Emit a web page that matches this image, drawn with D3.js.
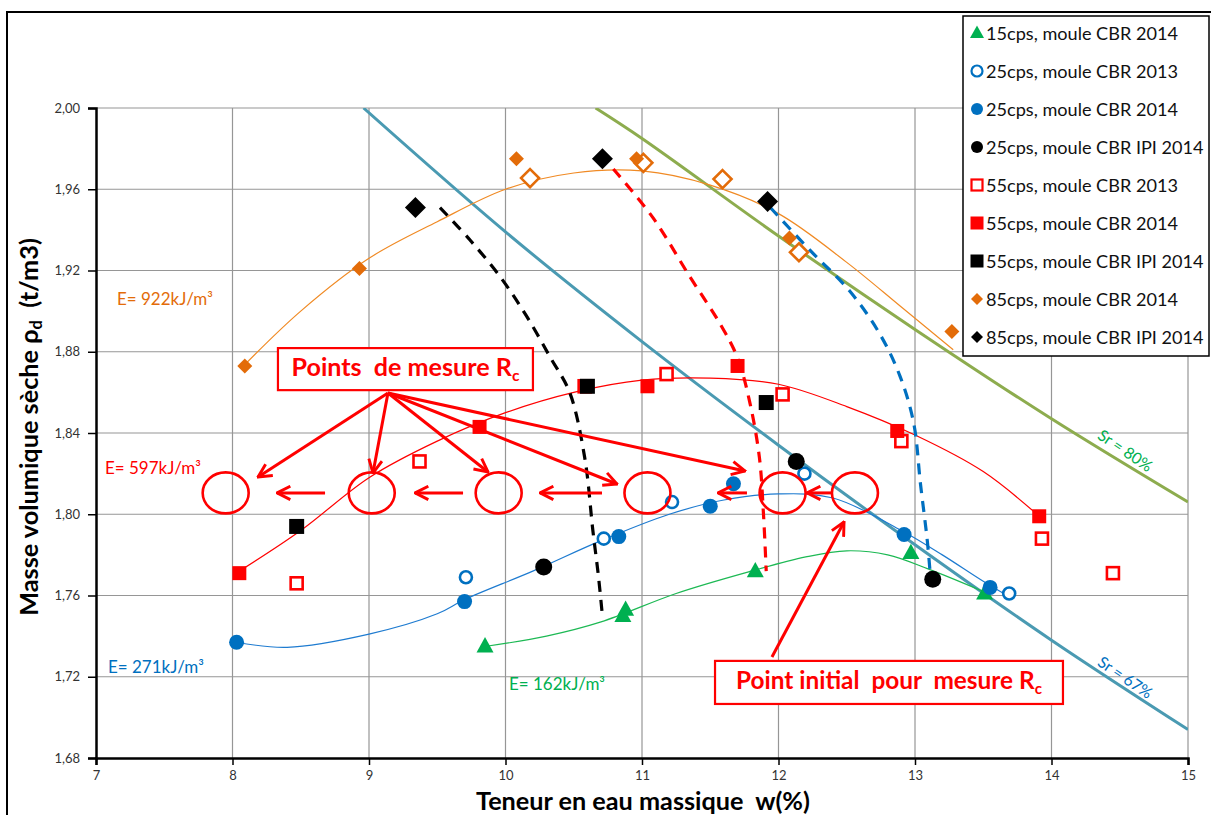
<!DOCTYPE html>
<html><head><meta charset="utf-8">
<script src="https://cdn.jsdelivr.net/npm/d3@7"></script>
<style>
body{margin:0;background:#fff}
text{font-family:Lato,'Open Sans',sans-serif}
</style>
</head><body>
<svg id="c" width="1211" height="815"></svg>
<script>
// ---------------- DATA ----------------
const xTicks = [7, 8, 9, 10, 11, 12, 13, 14, 15];
const yTicks = [1.68, 1.72, 1.76, 1.80, 1.84, 1.88, 1.92, 1.96, 2.00];

const legendLabels = [
  "15cps, moule CBR 2014", "25cps, moule CBR 2013", "25cps, moule CBR 2014",
  "25cps, moule CBR IPI 2014", "55cps, moule CBR 2013", "55cps, moule CBR 2014",
  "55cps, moule CBR IPI 2014", "85cps, moule CBR 2014", "85cps, moule CBR IPI 2014"
];

// [w %, rho_d t/m3]
const s15CBR2014   = [[9.85,1.735],[10.86,1.750],[10.88,1.753],[11.83,1.772],[12.97,1.781],[13.51,1.761]];
const s25CBR2013   = [[9.71,1.769],[10.72,1.788],[11.22,1.806],[12.19,1.820],[13.69,1.761]];
const s25CBR2014   = [[8.03,1.737],[9.70,1.757],[10.83,1.789],[11.50,1.804],[11.67,1.815],[12.92,1.790],[13.55,1.764]];
const s25IPI2014   = [[10.28,1.774],[12.13,1.826],[13.13,1.768]];
const s55CBR2013   = [[8.47,1.766],[9.37,1.826],[10.58,1.863],[11.18,1.869],[12.03,1.859],[12.90,1.836],[13.93,1.788],[14.45,1.771]];
const s55CBR2014   = [[8.05,1.771],[9.81,1.843],[11.04,1.863],[11.70,1.873],[12.87,1.841],[13.91,1.799]];
const s55IPI2014   = [[8.47,1.794],[10.60,1.863],[11.91,1.855]];
const s85CBR2014   = [[8.09,1.873],[8.93,1.921],[10.08,1.975],[10.96,1.975],[12.08,1.936],[13.27,1.890]];
const s85CBR2014b  = [[10.18,1.9655],[11.01,1.973],[11.59,1.965],[12.15,1.929]]; // open diamonds (no legend entry)
const s85IPI2014   = [[9.34,1.951],[10.71,1.975],[11.92,1.954]];

// trend curves
const trend162 = [[9.86,1.735],[10.3,1.740],[10.7,1.747],[11.25,1.761],[11.8,1.772],[12.2,1.779],[12.5,1.782],[12.8,1.780],[13.1,1.773],[13.5,1.762]];
const trend271 = [[8.03,1.737],[8.4,1.7345],[9.0,1.741],[9.5,1.751],[9.7,1.758],[10.2,1.772],[10.7,1.787],[11.2,1.800],[11.6,1.807],[12.0,1.810],[12.4,1.808],[12.9,1.792],[13.2,1.780],[13.5,1.767],[13.7,1.759]];
const trend597 = [[8.05,1.772],[8.5,1.792],[9.0,1.818],[9.5,1.836],[10.0,1.850],[10.5,1.860],[11.0,1.866],[11.5,1.867],[12.0,1.864],[12.5,1.853],[13.0,1.839],[13.5,1.821],[13.91,1.799]];
const trend922 = [[8.08,1.873],[8.5,1.900],[9.0,1.926],[9.5,1.944],[10.0,1.960],[10.5,1.968],[11.0,1.969],[11.5,1.962],[12.0,1.948],[12.5,1.924],[12.9,1.902],[13.28,1.881]];

// dashed curves
const dashBlack = [[9.52,1.951],[9.74,1.935],[9.96,1.917],[10.15,1.898],[10.33,1.877],[10.47,1.860],[10.58,1.828],[10.64,1.792],[10.68,1.770],[10.71,1.750]];
const dashRed   = [[10.79,1.970],[11.08,1.946],[11.35,1.917],[11.57,1.894],[11.70,1.877],[11.79,1.855],[11.86,1.828],[11.89,1.800],[11.91,1.772]];
const dashBlue  = [[11.94,1.951],[12.23,1.930],[12.52,1.910],[12.74,1.889],[12.89,1.868],[12.99,1.845],[13.04,1.815],[13.09,1.787],[13.11,1.772]];

// saturation lines
const sr67 = [[8.96,2.000],[10,1.939],[11,1.885],[12,1.834],[13,1.785],[14,1.738],[15,1.694]];
const sr80 = [[10.66,2.000],[11,1.985],[12,1.937],[13,1.891],[14,1.847],[15,1.806]];

// annotations (data coordinates)
const ellipseW   = [7.95, 9.02, 9.95, 11.04, 12.03, 12.56];
const ellipseRho = 1.8105;
const pointerFrom = [9.139, 1.8597];
const pointerTo   = [[8.187,1.8183],[9.029,1.8203],[9.872,1.8208],[10.817,1.8149],[11.755,1.8213]];
const leftArrows  = [[8.678,8.326],[9.689,9.337],[10.707,10.253],[11.769,11.557],[12.399,12.209]];
const initArrow   = [[11.952,1.7297],[12.480,1.7962]];
const boxPoints   = [[8.333,1.8818],[10.201,1.8611]];
const boxInitial  = [[11.535,1.7278],[14.084,1.7066]];
const energyLabels = [
  {t:"E= 922kJ/m³", w:7.154, r:1.903},
  {t:"E= 597kJ/m³", w:7.066, r:1.8198},
  {t:"E= 271kJ/m³", w:7.088, r:1.7218},
  {t:"E= 162kJ/m³", w:10.026, r:1.7135}
];
const srLabels = [{t:"Sr = 80%", w:14.538, r:1.8311},{t:"Sr = 67%", w:14.538, r:1.7194}];

// ---------------- CHART ----------------
const svg = d3.select("#c");
svg.append("rect").attr("width",1211).attr("height",815).attr("fill","#fff");
svg.append("rect").attr("x",7).attr("y",12).attr("width",1220).attr("height",820)
   .attr("fill","none").attr("stroke","#000").attr("stroke-width",2);

const x = d3.scaleLinear().domain([7,15]).range([96,1188]);
const y = d3.scaleLinear().domain([1.68,2.00]).range([758,108]);

const GREEN="#00B050", BLUE="#0070C0", RED="#FF0000", ORANGE="#E36C09", BLACK="#000";
const TEAL="#4A9AB2", OLIVE="#8DAC4E";

function fit(t, w){
  const cur = t.node().getComputedTextLength();
  const fs = parseFloat(t.attr("font-size"));
  t.attr("font-size", fs*w/cur);
}

// grid
const grid = svg.append("g").attr("stroke","#969696").attr("stroke-width",1.2);
grid.selectAll(".gx").data(xTicks.slice(1)).join("line")
  .attr("x1",d=>x(d)).attr("x2",d=>x(d)).attr("y1",y(2.0)).attr("y2",y(1.68));
grid.selectAll(".gy").data(yTicks.slice(1)).join("line")
  .attr("y1",d=>y(d)).attr("y2",d=>y(d)).attr("x1",x(7)).attr("x2",x(15));

// axes
const fmt = d => d.toFixed(2).replace(".",",");
const ya = svg.append("g").attr("transform",`translate(${x(7)},0)`)
  .call(d3.axisLeft(y).tickValues(yTicks).tickFormat(fmt).tickSize(8).tickPadding(8));
const xa = svg.append("g").attr("transform",`translate(0,${y(1.68)})`)
  .call(d3.axisBottom(x).tickValues(xTicks).tickFormat(d3.format("d")).tickSize(7).tickPadding(6));
[ya,xa].forEach(a=>{
  a.select(".domain").attr("stroke","#000").attr("stroke-width",2.5);
  a.selectAll(".tick line").attr("stroke","#000").attr("stroke-width",1.5);
  a.selectAll(".tick text").attr("font-family","Lato, sans-serif").attr("font-size",13).attr("fill","#333");
});

// axis titles
const yt = svg.append("text").attr("transform","translate(38,427) rotate(-90)")
  .attr("text-anchor","middle").attr("font-weight","bold").attr("font-size",20).attr("fill","#000");
yt.append("tspan").text("Masse volumique sèche ρ");
yt.append("tspan").attr("font-size","65%").attr("dy",4).text("d");
yt.append("tspan").attr("dy",-4).text("\u00a0\u00a0(t/m3)");
fit(yt, 378);
const xt = svg.append("text").attr("x",643).attr("y",810).attr("text-anchor","middle")
  .attr("font-weight","bold").attr("font-size",20).attr("fill","#000")
  .text("Teneur en eau massique\u00a0\u00a0w(%)");
fit(xt, 334);

// clip
svg.append("clipPath").attr("id","pc").append("rect")
  .attr("x",x(7)).attr("y",y(2.0)).attr("width",x(15)-x(7)).attr("height",y(1.68)-y(2.0));
const plot = svg.append("g").attr("clip-path","url(#pc)");

const lineGen = d3.line().x(d=>x(d[0])).y(d=>y(d[1])).curve(d3.curveCatmullRom.alpha(0.5));

// saturation lines
plot.append("path").datum(sr67).attr("d",lineGen).attr("fill","none").attr("stroke",TEAL).attr("stroke-width",3);
plot.append("path").datum(sr80).attr("d",lineGen).attr("fill","none").attr("stroke",OLIVE).attr("stroke-width",3);

// trend curves
[[trend162,"#1DB954"],[trend271,"#1E7BD0"],[trend597,RED],[trend922,"#F08A24"]].forEach(([d,c])=>{
  plot.append("path").datum(d).attr("d",lineGen).attr("fill","none").attr("stroke",c).attr("stroke-width",1.2);
});

// dashed curves
[[dashBlack,BLACK],[dashRed,RED],[dashBlue,BLUE]].forEach(([d,c])=>{
  plot.append("path").datum(d).attr("d",lineGen).attr("fill","none").attr("stroke",c)
    .attr("stroke-width",3.2).attr("stroke-dasharray","11,8");
});

// markers
function marker(g, type, cx, cy, s, fill, stroke, sw){
  let el;
  if(type==="tri"){
    const h = s*0.9;
    el = g.append("path").attr("d",`M${cx},${cy-h*0.6}L${cx+s/2},${cy+h*0.4}L${cx-s/2},${cy+h*0.4}Z`);
  } else if(type==="circle"){
    el = g.append("circle").attr("cx",cx).attr("cy",cy).attr("r",s/2);
  } else if(type==="square"){
    el = g.append("rect").attr("x",cx-s/2).attr("y",cy-s/2).attr("width",s).attr("height",s);
  } else {
    el = g.append("path").attr("d",`M${cx},${cy-s/2}L${cx+s/2},${cy}L${cx},${cy+s/2}L${cx-s/2},${cy}Z`);
  }
  el.attr("fill",fill).attr("stroke",stroke||"none").attr("stroke-width",sw||0);
}

const series = [
  {data:s15CBR2014, type:"tri",    size:17, fill:GREEN, stroke:null, sw:0, leg:0, lsize:14},
  {data:s25CBR2013, type:"circle", size:12, fill:"#fff", stroke:BLUE, sw:2.6, leg:1, lsize:11},
  {data:s25CBR2014, type:"circle", size:15, fill:BLUE, stroke:null, sw:0, leg:2, lsize:12},
  {data:s25IPI2014, type:"circle", size:17, fill:BLACK, stroke:null, sw:0, leg:3, lsize:12},
  {data:s55CBR2013, type:"square", size:12, fill:"#fff", stroke:RED, sw:2.6, leg:4, lsize:11},
  {data:s55CBR2014, type:"square", size:14, fill:RED, stroke:null, sw:0, leg:5, lsize:13},
  {data:s55IPI2014, type:"square", size:15, fill:BLACK, stroke:null, sw:0, leg:6, lsize:13},
  {data:s85CBR2014b,type:"diamond",size:18, fill:"#fff", stroke:ORANGE, sw:2.6, leg:null},
  {data:s85CBR2014, type:"diamond",size:15, fill:ORANGE, stroke:null, sw:0, leg:7, lsize:12},
  {data:s85IPI2014, type:"diamond",size:21, fill:BLACK, stroke:null, sw:0, leg:8, lsize:12}
];
const mg = svg.append("g");
series.forEach(s=>s.data.forEach(d=>marker(mg,s.type,x(d[0]),y(d[1]),s.size,s.fill,s.stroke,s.sw)));

// annotation layer
const ann = svg.append("g");
const defs = svg.append("defs");
defs.append("marker").attr("id","ah").attr("viewBox","0 0 12 12").attr("refX",11).attr("refY",6)
  .attr("markerWidth",16).attr("markerHeight",16).attr("markerUnits","userSpaceOnUse").attr("orient","auto")
  .append("path").attr("d","M1,1L11,6L1,11").attr("fill","none").attr("stroke",RED).attr("stroke-width",2.2);

ann.selectAll(".el").data(ellipseW).join("ellipse")
  .attr("cx",d=>x(d)).attr("cy",y(ellipseRho)).attr("rx",23).attr("ry",20.5)
  .attr("fill","none").attr("stroke",RED).attr("stroke-width",2.6);

ann.selectAll(".pa").data(pointerTo).join("line")
  .attr("x1",x(pointerFrom[0])).attr("y1",y(pointerFrom[1]))
  .attr("x2",d=>x(d[0])).attr("y2",d=>y(d[1]))
  .attr("stroke",RED).attr("stroke-width",3).attr("marker-end","url(#ah)");

ann.selectAll(".la").data(leftArrows).join("line")
  .attr("x1",d=>x(d[0])).attr("x2",d=>x(d[1])).attr("y1",y(ellipseRho)).attr("y2",y(ellipseRho))
  .attr("stroke",RED).attr("stroke-width",3).attr("marker-end","url(#ah)");

ann.append("line").attr("x1",x(initArrow[0][0])).attr("y1",y(initArrow[0][1]))
  .attr("x2",x(initArrow[1][0])).attr("y2",y(initArrow[1][1]))
  .attr("stroke",RED).attr("stroke-width",3).attr("marker-end","url(#ah)");

function box(b, label, textW){
  const x0=x(b[0][0]), y0=y(b[0][1]), x1=x(b[1][0]), y1=y(b[1][1]);
  ann.append("rect").attr("x",x0).attr("y",y0).attr("width",x1-x0).attr("height",y1-y0)
    .attr("fill","#fff").attr("stroke",RED).attr("stroke-width",2.2);
  const t = ann.append("text").attr("x",(x0+x1)/2).attr("y",(y0+y1)/2+7).attr("text-anchor","middle")
    .attr("font-weight","bold").attr("font-size",20).attr("fill",RED);
  t.append("tspan").text(label+"R");
  t.append("tspan").attr("font-size","62%").attr("dy",5).text("c");
  fit(t, textW);
}
box(boxPoints, "Points\u00a0 de mesure ", 228);
box(boxInitial, "Point initial\u00a0 pour\u00a0 mesure ", 306);

// energy labels
const eColors = [ORANGE, RED, BLUE, GREEN];
energyLabels.forEach((e,i)=>{
  const t = ann.append("text").attr("x",x(e.w)).attr("y",y(e.r)).attr("font-size",14)
    .attr("fill",eColors[i]).text(e.t);
  fit(t, 96);
});

// Sr labels
srLabels.forEach((s,i)=>{
  const t = ann.append("text").attr("transform",`translate(${x(s.w)},${y(s.r)}) rotate(34)`)
    .attr("text-anchor","middle").attr("dy",5).attr("font-size",14)
    .attr("fill", i===0 ? GREEN : BLUE).text(s.t);
  fit(t, 62);
});

// legend
const lg = svg.append("g");
lg.append("rect").attr("x",963).attr("y",16).attr("width",246).attr("height",340)
  .attr("fill","#fff").attr("stroke","#000").attr("stroke-width",1.5);
const legY = d3.scaleLinear().domain([0,8]).range([33,337]);
let lfs = null;
series.filter(s=>s.leg!==null).forEach(s=>{
  const cy = legY(s.leg);
  marker(lg, s.type, 977, cy, s.lsize, s.fill, s.stroke, s.stroke?2.2:0);
  const t = lg.append("text").attr("x",986).attr("y",cy).attr("dy","0.36em")
    .attr("font-size",lfs||16).attr("fill","#111").text(legendLabels[s.leg]);
  if(lfs===null){ fit(t,192); lfs = parseFloat(t.attr("font-size")); }
});
</script>
</body></html>
